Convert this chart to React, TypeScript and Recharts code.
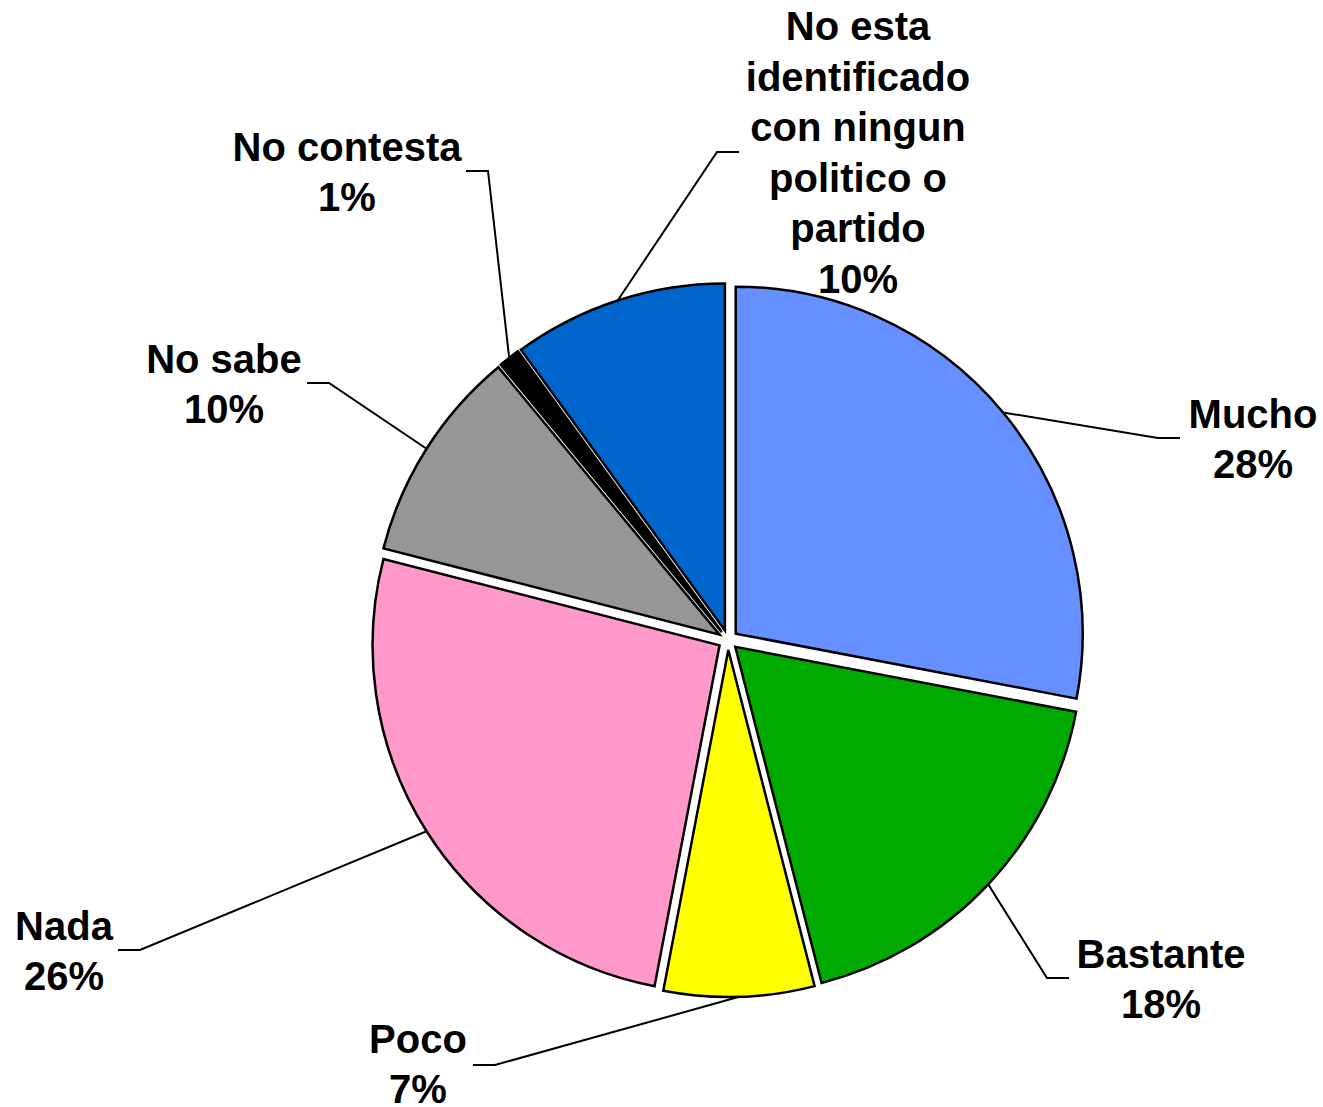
import React from "react";
import { PieChart, Pie, Cell, Sector } from "recharts";

// categories, clockwise from 12 o'clock
const categories = [
  "Mucho",
  "Bastante",
  "Poco",
  "Nada",
  "No sabe",
  "No contesta",
  "No esta\nidentificado\ncon ningun\npolitico o\npartido",
];
const shares = [28, 18, 7, 26, 10, 1, 10];
const colors = ["#6690FF", "#00AA00", "#FFFF00", "#FF99CC", "#969696", "#000000", "#0066CC"];

// label layout, relative to pie centre: kink of the leader, side of the
// short horizontal tail, text centre x and first baseline
const labelSpots = [
  { kx: 430, ky: -202, side: 1, tx: 525, ty: -212 },
  { kx: 319, ky: 338, side: 1, tx: 433, ty: 328 },
  { kx: -233, ky: 425, side: -1, tx: -310, ty: 413 },
  { kx: -588, ky: 310, side: -1, tx: -664, ty: 300 },
  { kx: -399, ky: -257, side: -1, tx: -504, ty: -267 },
  { kx: -240, ky: -469, side: -1, tx: -381, ty: -479 },
  { kx: -11, ky: -488, side: 1, tx: 130, ty: -600 },
];

const data = categories.map((name, i) => ({ name, value: shares[i] }));

const W = 1323;
const H = 1107;
const CX = 728;
const CY = 640;
const R = 347;
const EXPLODE = 10;
const RAD = Math.PI / 180;
const FONT = "'Liberation Sans', Arial, sans-serif";

const explodedSector = (props: any) => {
  const { cx, cy, midAngle } = props;
  return (
    <Sector
      {...props}
      cx={cx + EXPLODE * Math.cos(-midAngle * RAD)}
      cy={cy + EXPLODE * Math.sin(-midAngle * RAD)}
    />
  );
};

const renderLabel = (props: any) => {
  const { cx, cy, midAngle, outerRadius, index, value, name } = props;
  const spot = labelSpots[index];
  const ox = cx + EXPLODE * Math.cos(-midAngle * RAD);
  const oy = cy + EXPLODE * Math.sin(-midAngle * RAD);
  const sx = ox + outerRadius * Math.cos(-midAngle * RAD);
  const sy = oy + outerRadius * Math.sin(-midAngle * RAD);
  const kx = cx + spot.kx;
  const ky = cy + spot.ky;
  const ex = kx + spot.side * 22;
  const lines = [...String(name).split("\n"), `${value}%`];
  const lh = lines.length > 2 ? 50.6 : 49.5;
  return (
    <g key={`lbl-${index}`}>
      <polyline
        points={`${sx},${sy} ${kx},${ky} ${ex},${ky}`}
        fill="none"
        stroke="#000"
        strokeWidth={2}
      />
      <text
        x={cx + spot.tx}
        y={cy + spot.ty}
        textAnchor="middle"
        fontFamily={FONT}
        fontWeight="bold"
        fontSize={40}
        fill="#000"
      >
        {lines.map((ln, j) => (
          <tspan key={j} x={cx + spot.tx} y={cy + spot.ty + j * lh}>
            {ln}
          </tspan>
        ))}
      </text>
    </g>
  );
};

export default function App() {
  return (
    <div style={{ position: "absolute", left: 0, top: 0, width: W, height: H, background: "#fff" }}>
      <PieChart width={W} height={H} margin={{ top: 0, right: 0, bottom: 0, left: 0 }}>
        <Pie
          data={data}
          dataKey="value"
          nameKey="name"
          cx={CX}
          cy={CY}
          outerRadius={R}
          startAngle={90}
          endAngle={-270}
          stroke="#000"
          strokeWidth={2.5}
          shape={explodedSector}
          activeShape={explodedSector}
          label={renderLabel}
          labelLine={false}
          isAnimationActive={false}
        >
          {data.map((d, i) => (
            <Cell key={d.name} fill={colors[i]} />
          ))}
        </Pie>
      </PieChart>
    </div>
  );
}
